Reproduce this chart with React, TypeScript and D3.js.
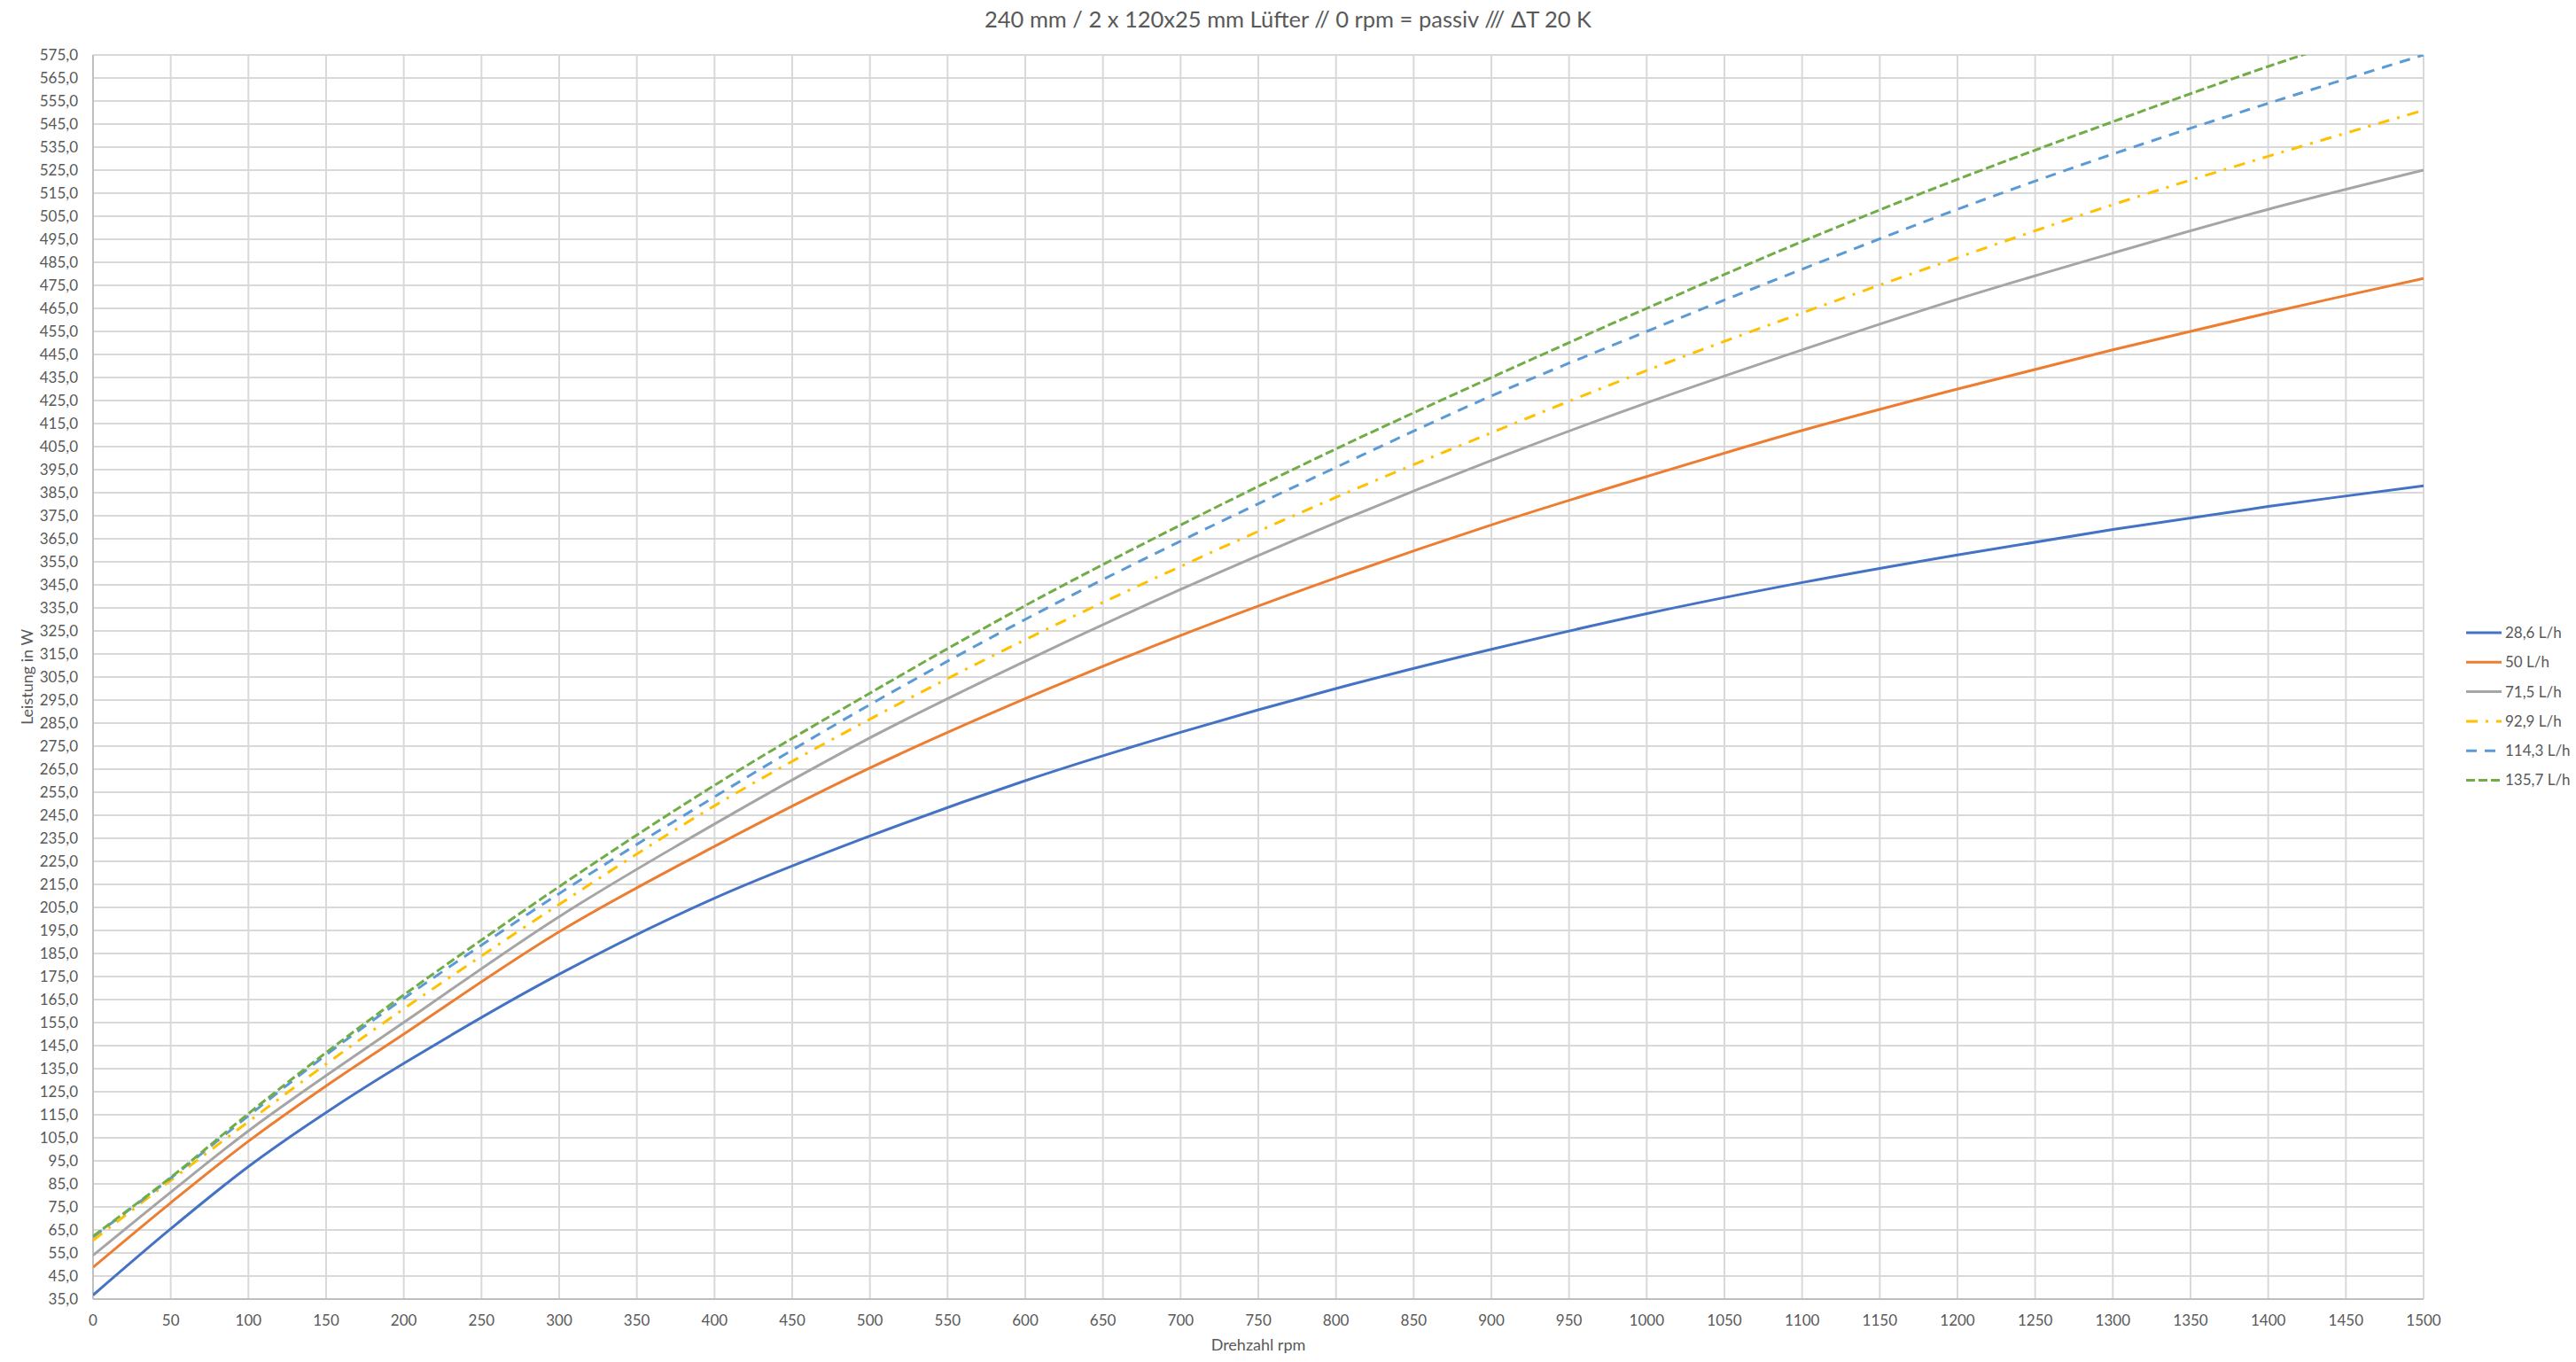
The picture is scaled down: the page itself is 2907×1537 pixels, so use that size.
import React from "react";
import * as d3 from "d3";

// Drehzahl (rpm) und Leistung (W) je Durchfluss
const rpm = [0, 50, 100, 150, 200, 300, 400, 500, 600, 700, 800, 900, 1000, 1100, 1200, 1300, 1400, 1500];
const flow286 = [36.7, 65.5, 92.5, 116, 137.3, 176, 209, 236, 260, 281, 300, 317, 332.5, 346, 358, 369, 379, 388];
const flow50 = [48.8, 76.8, 103.5, 127.5, 150, 194.4, 231.5, 265.5, 295.6, 323, 348, 371, 392, 412, 430, 447, 463, 478];
const flow715 = [54, 81.4, 108, 132, 155.1, 201, 241.2, 278.6, 311.9, 343, 372, 399, 424, 447, 469, 489, 508, 525];
const flow929 = [60.5, 86.5, 112, 137, 161, 206.3, 249.1, 286.7, 321.2, 353, 383, 411, 438, 463, 487, 510, 531, 551];
const flow1143 = [62, 87.5, 114.5, 141, 165.5, 211, 253, 293, 330, 364, 396, 427, 455, 482, 508, 532, 554, 575];
const flow1357 = [62.3, 87.8, 115.5, 142, 167, 214, 258, 298, 336, 371, 404, 435, 465, 494, 521, 546, 570, 592];

const seriesNames = ["28,6 L/h", "50 L/h", "71,5 L/h", "92,9 L/h", "114,3 L/h", "135,7 L/h"];
const seriesValues = [flow286, flow50, flow715, flow929, flow1143, flow1357];
const colors = ["#4472C4", "#ED7D31", "#A5A5A5", "#FFC000", "#5B9BD5", "#70AD47"];
const dashes = [null, null, null, "13 9 3 9", "12 9", "10 4"];

const xTicks = d3.range(0, 1501, 50);
const yTicks = d3.range(35, 576, 10);

const W = 2907;
const H = 1537;
const margin = { left: 105, right: 172, top: 62, bottom: 71 };
const font = "Lato, 'Open Sans', sans-serif";
const textColor = "#595959";

export default function App() {
  const x = d3.scaleLinear().domain([0, 1500]).range([margin.left, W - margin.right]);
  const y = d3.scaleLinear().domain([35, 575]).range([H - margin.bottom, margin.top]);

  const line = d3
    .line<[number, number]>()
    .x((d) => x(d[0]))
    .y((d) => y(d[1]))
    .curve(d3.curveCatmullRom.alpha(0.5));

  const x0 = x(0), x1 = x(1500), y0 = y(35), y1 = y(575);
  const legendX = 2783;
  const legendY0 = 714;
  const legendStep = 33.3;

  return (
    <svg
      width={W}
      height={H}
      style={{ position: "absolute", left: 0, top: 0, display: "block", background: "#fff" }}
      fontFamily={font}
    >
      <defs>
        <clipPath id="plot-clip">
          <rect x={x0} y={y1} width={x1 - x0} height={y0 - y1} />
        </clipPath>
      </defs>

      <text x={W / 2} y={31} textAnchor="middle" fontSize={25.5} fill={textColor}>
        240 mm / 2 x 120x25 mm Lüfter // 0 rpm = passiv /// ΔT 20 K
      </text>

      {/* gridlines */}
      {yTicks.map((t) => (
        <line key={"gy" + t} x1={x0} x2={x1} y1={y(t)} y2={y(t)} stroke="#D9D9D9" strokeWidth={2} />
      ))}
      {xTicks.map((t) => (
        <line key={"gx" + t} x1={x(t)} x2={x(t)} y1={y1} y2={y0} stroke="#D9D9D9" strokeWidth={2} />
      ))}
      <line x1={x0} x2={x0} y1={y1} y2={y0} stroke="#BFBFBF" strokeWidth={2} />
      <line x1={x0} x2={x1} y1={y0} y2={y0} stroke="#BFBFBF" strokeWidth={2} />

      {/* tick labels */}
      {yTicks.map((t) => (
        <text key={"ly" + t} x={x0 - 17} y={y(t)} dy="0.35em" textAnchor="end" fontSize={17} fill={textColor}>
          {d3.format(".1f")(t).replace(".", ",")}
        </text>
      ))}
      {xTicks.map((t) => (
        <text key={"lx" + t} x={x(t)} y={y0 + 30} textAnchor="middle" fontSize={17} fill={textColor}>
          {t}
        </text>
      ))}

      <text x={(x0 + x1) / 2} y={H - 13} textAnchor="middle" fontSize={18} fill={textColor}>
        Drehzahl rpm
      </text>
      <text
        transform={`translate(37, ${(y0 + y1) / 2}) rotate(-90)`}
        textAnchor="middle"
        fontSize={18}
        fill={textColor}
      >
        Leistung in W
      </text>

      {/* lines */}
      <g clipPath="url(#plot-clip)">
        {seriesValues.map((vals, i) => (
          <path
            key={"s" + i}
            d={line(rpm.map((r, j) => [r, vals[j]]) as [number, number][]) || ""}
            fill="none"
            stroke={colors[i]}
            strokeWidth={3}
            strokeDasharray={dashes[i] || undefined}
            strokeLinecap="butt"
            strokeLinejoin="round"
          />
        ))}
      </g>

      {/* legend */}
      {seriesNames.map((name, i) => {
        const ly = legendY0 + i * legendStep;
        return (
          <g key={"lg" + i}>
            <line
              x1={legendX}
              x2={legendX + 40}
              y1={ly}
              y2={ly}
              stroke={colors[i]}
              strokeWidth={3}
              strokeDasharray={dashes[i] || undefined}
            />
            <text x={legendX + 44} y={ly} dy="0.35em" fontSize={17} fill={textColor}>
              {name}
            </text>
          </g>
        );
      })}
    </svg>
  );
}
